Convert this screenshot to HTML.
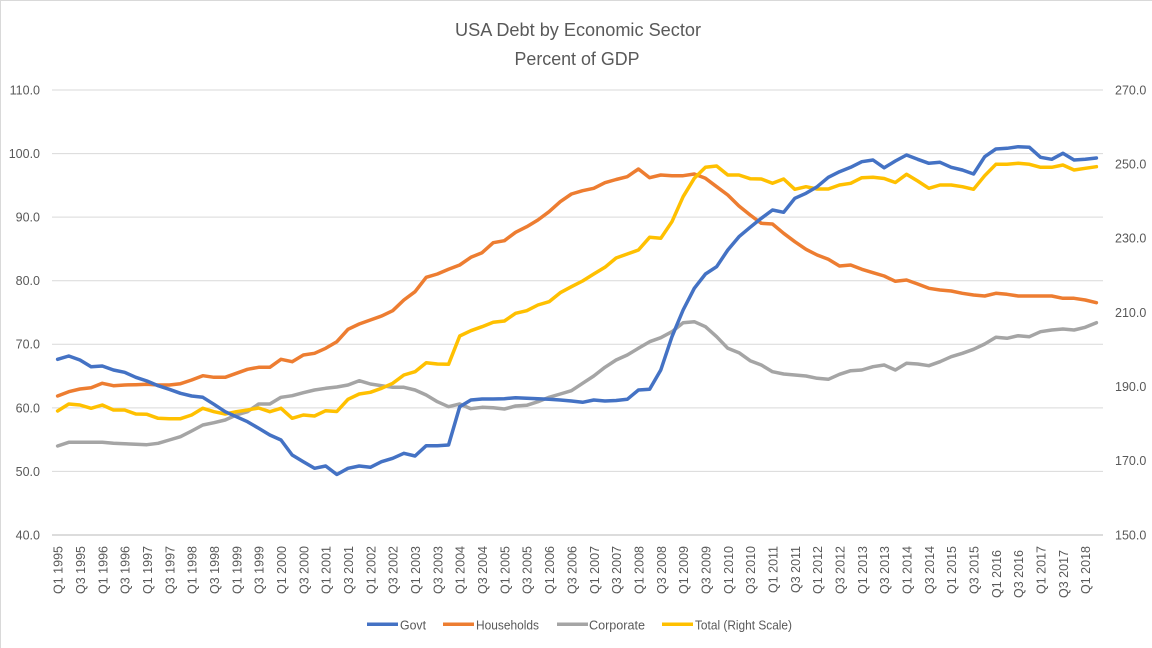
<!DOCTYPE html>
<html>
<head>
<meta charset="utf-8">
<style>
  html,body{margin:0;padding:0;background:#fff;}
  svg{display:block;}
  text{font-family:"Liberation Sans",sans-serif;fill:#595959;}
</style>
</head>
<body>
<svg width="1152" height="648" viewBox="0 0 1152 648" xmlns="http://www.w3.org/2000/svg">
  <rect x="0" y="0" width="1152" height="648" fill="#fff"/>
  <line x1="0" y1="0.5" x2="1152" y2="0.5" stroke="#d9d9d9" stroke-width="1"/>
  <line x1="0.5" y1="0" x2="0.5" y2="648" stroke="#d9d9d9" stroke-width="1"/>

  <!-- Title -->
  <text x="578" y="36" font-size="18" text-anchor="middle" textLength="246" lengthAdjust="spacingAndGlyphs">USA Debt by Economic Sector</text>
  <text x="577" y="65" font-size="18" text-anchor="middle" textLength="125" lengthAdjust="spacingAndGlyphs">Percent of GDP</text>

  <!-- Gridlines -->
  <g stroke="#d9d9d9" stroke-width="1">
    <line x1="52" y1="90" x2="1103" y2="90"/>
    <line x1="52" y1="153.6" x2="1103" y2="153.6"/>
    <line x1="52" y1="217.1" x2="1103" y2="217.1"/>
    <line x1="52" y1="280.7" x2="1103" y2="280.7"/>
    <line x1="52" y1="344.3" x2="1103" y2="344.3"/>
    <line x1="52" y1="407.9" x2="1103" y2="407.9"/>
    <line x1="52" y1="471.4" x2="1103" y2="471.4"/>
  </g>
  <line x1="52" y1="535" x2="1103" y2="535" stroke="#d0d0d0" stroke-width="1.6"/>

  <!-- Left axis labels -->
  <g font-size="12.5" text-anchor="end">
    <text x="40" y="94.5">110.0</text>
    <text x="40" y="158">100.0</text>
    <text x="40" y="221.5">90.0</text>
    <text x="40" y="285">80.0</text>
    <text x="40" y="348.7">70.0</text>
    <text x="40" y="412.3">60.0</text>
    <text x="40" y="475.8">50.0</text>
    <text x="40" y="539.4">40.0</text>
  </g>
  <!-- Right axis labels -->
  <g font-size="12.5" text-anchor="start">
    <text x="1115" y="94.5">270.0</text>
    <text x="1115" y="168.6">250.0</text>
    <text x="1115" y="242.7">230.0</text>
    <text x="1115" y="316.9">210.0</text>
    <text x="1115" y="391">190.0</text>
    <text x="1115" y="465.2">170.0</text>
    <text x="1115" y="539.4">150.0</text>
  </g>

  <!-- X axis labels -->
  <g font-size="12.5" text-anchor="end">
    <text x="62.6" y="546" transform="rotate(-90 62.6 546)">Q1 1995</text>
    <text x="84.9" y="546" transform="rotate(-90 84.9 546)">Q3 1995</text>
    <text x="107.3" y="546" transform="rotate(-90 107.3 546)">Q1 1996</text>
    <text x="129.6" y="546" transform="rotate(-90 129.6 546)">Q3 1996</text>
    <text x="152.0" y="546" transform="rotate(-90 152.0 546)">Q1 1997</text>
    <text x="174.3" y="546" transform="rotate(-90 174.3 546)">Q3 1997</text>
    <text x="196.6" y="546" transform="rotate(-90 196.6 546)">Q1 1998</text>
    <text x="219.0" y="546" transform="rotate(-90 219.0 546)">Q3 1998</text>
    <text x="241.3" y="546" transform="rotate(-90 241.3 546)">Q1 1999</text>
    <text x="263.7" y="546" transform="rotate(-90 263.7 546)">Q3 1999</text>
    <text x="286.0" y="546" transform="rotate(-90 286.0 546)">Q1 2000</text>
    <text x="308.3" y="546" transform="rotate(-90 308.3 546)">Q3 2000</text>
    <text x="330.7" y="546" transform="rotate(-90 330.7 546)">Q1 2001</text>
    <text x="353.0" y="546" transform="rotate(-90 353.0 546)">Q3 2001</text>
    <text x="375.4" y="546" transform="rotate(-90 375.4 546)">Q1 2002</text>
    <text x="397.7" y="546" transform="rotate(-90 397.7 546)">Q3 2002</text>
    <text x="420.0" y="546" transform="rotate(-90 420.0 546)">Q1 2003</text>
    <text x="442.4" y="546" transform="rotate(-90 442.4 546)">Q3 2003</text>
    <text x="464.7" y="546" transform="rotate(-90 464.7 546)">Q1 2004</text>
    <text x="487.1" y="546" transform="rotate(-90 487.1 546)">Q3 2004</text>
    <text x="509.4" y="546" transform="rotate(-90 509.4 546)">Q1 2005</text>
    <text x="531.7" y="546" transform="rotate(-90 531.7 546)">Q3 2005</text>
    <text x="554.1" y="546" transform="rotate(-90 554.1 546)">Q1 2006</text>
    <text x="576.4" y="546" transform="rotate(-90 576.4 546)">Q3 2006</text>
    <text x="598.8" y="546" transform="rotate(-90 598.8 546)">Q1 2007</text>
    <text x="621.1" y="546" transform="rotate(-90 621.1 546)">Q3 2007</text>
    <text x="643.4" y="546" transform="rotate(-90 643.4 546)">Q1 2008</text>
    <text x="665.8" y="546" transform="rotate(-90 665.8 546)">Q3 2008</text>
    <text x="688.1" y="546" transform="rotate(-90 688.1 546)">Q1 2009</text>
    <text x="710.5" y="546" transform="rotate(-90 710.5 546)">Q3 2009</text>
    <text x="732.8" y="546" transform="rotate(-90 732.8 546)">Q1 2010</text>
    <text x="755.1" y="546" transform="rotate(-90 755.1 546)">Q3 2010</text>
    <text x="777.5" y="546" transform="rotate(-90 777.5 546)">Q1 2011</text>
    <text x="799.8" y="546" transform="rotate(-90 799.8 546)">Q3 2011</text>
    <text x="822.2" y="546" transform="rotate(-90 822.2 546)">Q1 2012</text>
    <text x="844.5" y="546" transform="rotate(-90 844.5 546)">Q3 2012</text>
    <text x="866.8" y="546" transform="rotate(-90 866.8 546)">Q1 2013</text>
    <text x="889.2" y="546" transform="rotate(-90 889.2 546)">Q3 2013</text>
    <text x="911.5" y="546" transform="rotate(-90 911.5 546)">Q1 2014</text>
    <text x="933.9" y="546" transform="rotate(-90 933.9 546)">Q3 2014</text>
    <text x="956.2" y="546" transform="rotate(-90 956.2 546)">Q1 2015</text>
    <text x="978.5" y="546" transform="rotate(-90 978.5 546)">Q3 2015</text>
    <text x="1000.9" y="550" transform="rotate(-90 1000.9 550)">Q1 2016</text>
    <text x="1023.2" y="550" transform="rotate(-90 1023.2 550)">Q3 2016</text>
    <text x="1045.6" y="546" transform="rotate(-90 1045.6 546)">Q1 2017</text>
    <text x="1067.9" y="550" transform="rotate(-90 1067.9 550)">Q3 2017</text>
    <text x="1090.2" y="546" transform="rotate(-90 1090.2 546)">Q1 2018</text>
  </g>

  <!-- Series -->
  <g transform="translate(57.6,0) scale(11.17,1)" fill="none" stroke-width="3.5" stroke-linejoin="round" stroke-linecap="round">
    <!-- Corporate -->
    <polyline vector-effect="non-scaling-stroke" stroke="#A5A5A5" points="0,446 1,442.3 2,442.3 3,442.3 4,442.3 5,443.3 6,443.7 7,444.3 8,444.7 9,443.3 10,440 11,436.7 12,431 13,425 14,422.7 15,420 16,415 17,411.7 18,404 19,404 20,397.3 21,395.7 22,392.7 23,390 24,388.3 25,387 26,385 27,380.7 28,384 29,385.7 30,387.3 31,387.3 32,390 33,395 34,401.7 35,406.7 36,404 37,408.7 38,407.3 39,407.7 40,409 41,406 42,405.3 43,401.7 44,397.3 45,394 46,390.7 47,383.3 48,376 49,367.3 50,360 51,355 52,348.3 53,341.7 54,337.7 55,331.7 56,322.7 57,321.7 58,326.7 59,336.7 60,348.3 61,352.7 62,360.7 63,365 64,371.7 65,374 66,375 67,376 68,378.3 69,379.3 70,374.3 71,370.7 72,370 73,366.7 74,365 75,370 76,363.3 77,364 78,365.7 79,361.7 80,356.7 81,353.3 82,349.3 83,344 84,337.3 85,338.3 86,335.7 87,336.7 88,331.7 89,330 90,329 91,330 92,327.3 93,322.7"/>
    <!-- Households -->
    <polyline vector-effect="non-scaling-stroke" stroke="#ED7D31" points="0,396 1,391.7 2,389 3,387.7 4,383.3 5,385.7 6,385 7,384.7 8,384.3 9,385 10,385 11,383.7 12,380 13,375.7 14,377.3 15,377.3 16,373.3 17,369.3 18,367.3 19,367.3 20,359.3 21,361.7 22,355 23,353.3 24,348.3 25,341.7 26,329.3 27,324 28,320 29,316 30,310.7 31,300 32,291.7 33,277.3 34,274 35,269.3 36,265 37,257.3 38,252.7 39,242.7 40,240.7 41,232.3 42,226.7 43,220 44,211.7 45,201.7 46,194 47,190.7 48,188.3 49,182.7 50,179.5 51,176.7 52,169 53,177.7 54,175 55,175.7 56,175.7 57,174 58,178.3 59,186.7 60,195 61,206 62,215 63,223.3 64,224 65,233.3 66,241.7 67,249.3 68,255 69,259.3 70,266 71,265 72,269.3 73,272.7 74,276 75,281.3 76,280 77,284 78,288.3 79,290 80,291 81,293.3 82,295 83,296 84,293.3 85,294.3 86,296 87,296 88,296 89,296 90,298.3 91,298.3 92,300 93,302.7"/>
    <!-- Total -->
    <polyline vector-effect="non-scaling-stroke" stroke="#FFC000" points="0,411 1,404 2,405 3,408.3 4,405 5,410 6,410 7,414 8,414.3 9,418.3 10,418.7 11,418.7 12,415 13,408.3 14,411.7 15,414 16,411.7 17,410 18,408 19,411.7 20,408.3 21,418.3 22,415 23,416 24,410.7 25,411.5 26,399.3 27,394 28,392.3 29,388.3 30,383.3 31,375 32,371.7 33,362.7 34,364 35,364.3 36,336 37,330.7 38,326.7 39,322.3 40,321 41,313.3 42,310.7 43,305 44,301.7 45,292.7 46,286.7 47,281 48,274 49,267.3 50,258 51,254 52,250 53,237.3 54,238.3 55,221.7 56,196.7 57,178.3 58,167.3 59,166 60,175 61,175 62,178.7 63,179 64,183.3 65,179 66,189.3 67,186.7 68,189 69,189 70,185 71,183.3 72,177.7 73,177.3 74,178.5 75,182.5 76,174.3 77,181 78,188.3 79,185 80,185 81,186.7 82,189.3 83,175.7 84,164.3 85,164.3 86,163.3 87,164.3 88,167.3 89,167.3 90,165 91,170 92,168.3 93,166.7"/>
    <!-- Govt -->
    <polyline vector-effect="non-scaling-stroke" stroke="#4472C4" points="0,359.3 1,356 2,360 3,366.7 4,366 5,370 6,372.3 7,377.3 8,381 9,385.7 10,389.3 11,393.3 12,396 13,397.3 14,404.3 15,411.7 16,416.7 17,421.7 18,428.3 19,435 20,440 21,455 22,461.7 23,468.3 24,466 25,474.5 26,468.3 27,466 28,467.3 29,461.7 30,458.3 31,453.3 32,456 33,445.7 34,445.7 35,445 36,406.7 37,400 38,399 39,399 40,398.7 41,397.7 42,398.3 43,398.7 44,399.3 45,400 46,401 47,402.3 48,400 49,401 50,400.5 51,399.3 52,390 53,389.3 54,370 55,336.7 56,310 57,288.3 58,274 59,266.7 60,250 61,236.7 62,227.3 63,218.3 64,210 65,212.3 66,198.3 67,193.3 68,186.7 69,177.3 70,171.7 71,167.3 72,161.7 73,160 74,167.8 75,161 76,155 77,159.3 78,163.3 79,162.3 80,167.3 81,170 82,174 83,156.7 84,149 85,148.3 86,146.7 87,147.3 88,157.3 89,159.3 90,153.3 91,160 92,159.3 93,158"/>
  </g>

  <!-- Legend -->
  <g stroke-width="3.5">
    <line x1="367" y1="624.3" x2="398" y2="624.3" stroke="#4472C4"/>
    <line x1="443" y1="624.3" x2="474" y2="624.3" stroke="#ED7D31"/>
    <line x1="557" y1="624.3" x2="588" y2="624.3" stroke="#A5A5A5"/>
    <line x1="662" y1="624.3" x2="693" y2="624.3" stroke="#FFC000"/>
  </g>
  <g font-size="13">
    <text x="400" y="629.3" textLength="26" lengthAdjust="spacingAndGlyphs">Govt</text>
    <text x="476" y="629.3" textLength="63" lengthAdjust="spacingAndGlyphs">Households</text>
    <text x="589" y="629.3" textLength="56" lengthAdjust="spacingAndGlyphs">Corporate</text>
    <text x="695" y="629.3" textLength="97" lengthAdjust="spacingAndGlyphs">Total (Right Scale)</text>
  </g>
</svg>
</body>
</html>
